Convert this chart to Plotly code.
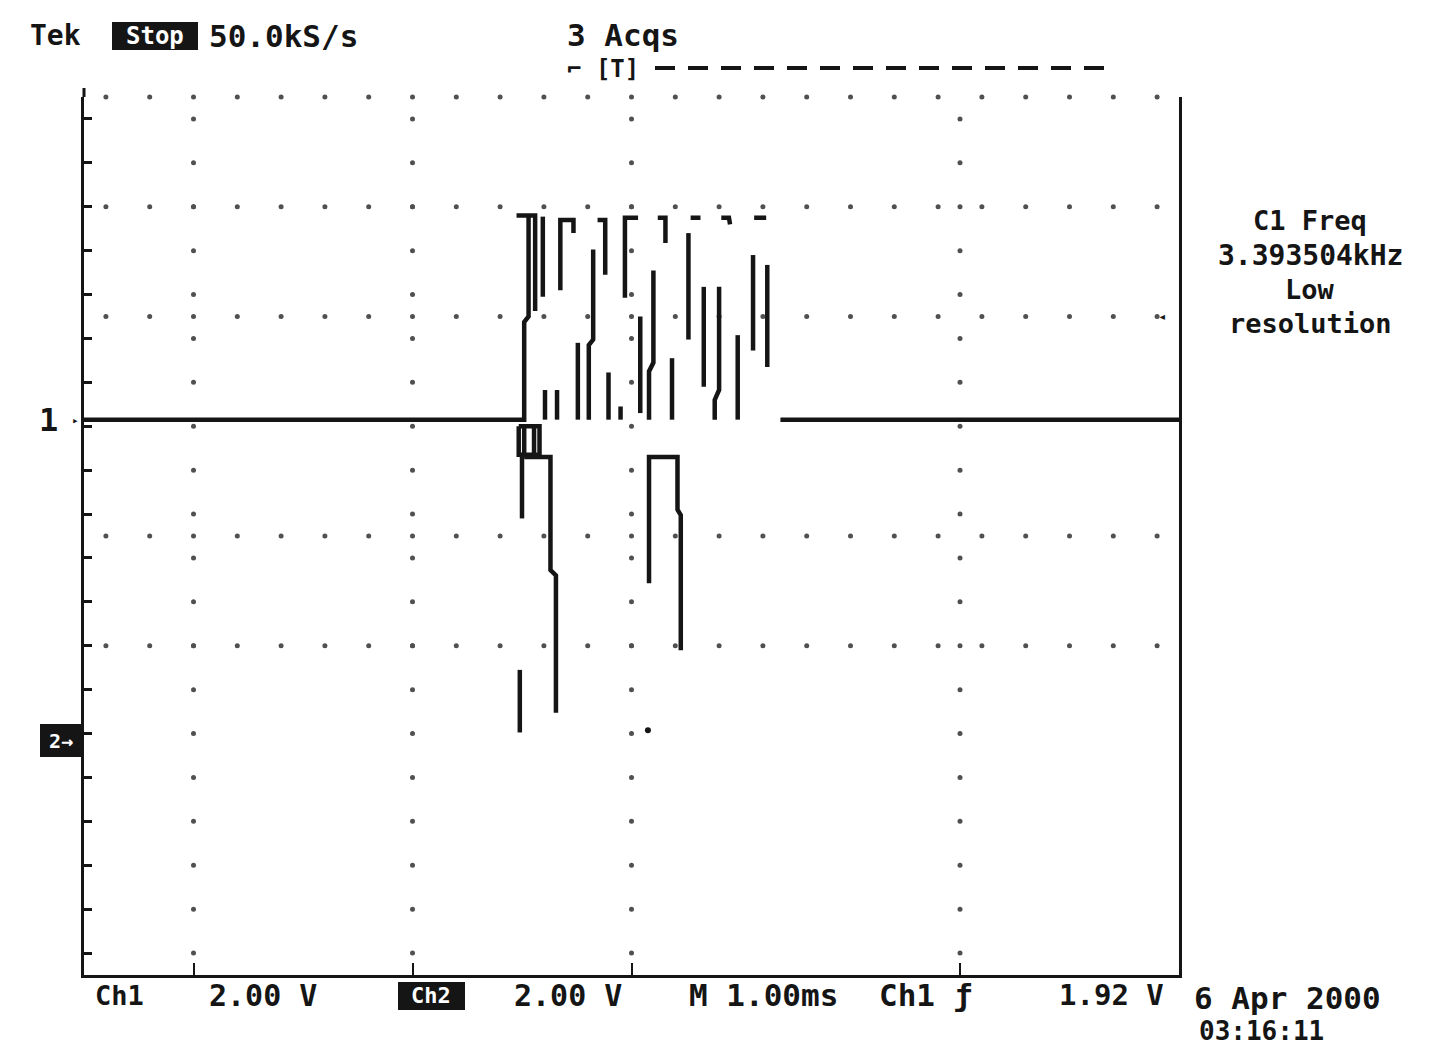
import numpy as np
import plotly.graph_objects as go

# ---------------- data (x: time, 1 ms/div, 0..10 ; y: screen divisions, -4..4) ----------------
# Ch1 acquisitions above ground level (None separates strokes)
upper_t = [0.00, 4.02, 4.02, 4.06, 4.06, None,
           3.95, 4.12, 4.12, None,
           4.19, 4.19, None,
           4.35, 4.35, 4.47, 4.47, None,
           4.65, 4.65, 4.61, 4.61, None,
           4.69, 4.76, 4.76, None,
           4.94, 4.94, 5.06, None,
           5.24, 5.31, 5.31, None,
           5.52, 5.52, None,
           5.54, 5.63, None,
           5.82, 5.89, 5.90, None,
           6.12, 6.23, None,
           5.20, 5.20, 5.16, 5.16, None,
           5.08, 5.08, None,
           5.66, 5.66, None,
           5.80, 5.80, 5.76, 5.76, None,
           5.97, 5.97, None,
           6.11, 6.11, None,
           6.24, 6.24, None,
           4.21, 4.21, None,
           4.32, 4.32, None,
           4.51, 4.51, None,
           4.79, 4.79, None,
           4.90, 4.90, None,
           5.37, 5.37, None,
           6.36, 10.00]
upper_v = [1.06, 1.06, 1.95, 2.00, 2.91, None,
           2.92, 2.92, 2.05, None,
           2.91, 2.18, None,
           2.24, 2.88, 2.88, 2.76, None,
           2.61, 1.79, 1.74, 1.06, None,
           2.88, 2.88, 2.38, None,
           2.17, 2.90, 2.90, None,
           2.90, 2.90, 2.67, None,
           2.76, 1.79, None,
           2.90, 2.90, None,
           2.90, 2.90, 2.84, None,
           2.90, 2.90, None,
           2.42, 1.58, 1.50, 1.06, None,
           2.00, 1.12, None,
           2.27, 1.36, None,
           2.27, 1.33, 1.24, 1.06, None,
           1.83, 1.06, None,
           2.56, 1.69, None,
           2.47, 1.54, None,
           1.33, 1.06, None,
           1.33, 1.06, None,
           1.76, 1.06, None,
           1.49, 1.06, None,
           1.18, 1.06, None,
           1.62, 1.06, None,
           1.06, 1.06]

# excursions below ground level
lower_t = [3.97, 4.16, 4.16, 3.97, 3.97, None,
           4.02, 4.02, None,
           4.11, 4.11, None,
           4.00, 4.00, None,
           4.02, 4.26, 4.26, 4.31, 4.31, None,
           3.98, 3.98, None,
           5.16, 5.16, 5.42, 5.42, 5.45, 5.45]
lower_v = [1.00, 1.00, 0.74, 0.74, 1.00, None,
           1.00, 0.74, None,
           1.00, 0.74, None,
           0.74, 0.16, None,
           0.72, 0.72, -0.31, -0.36, -1.61, None,
           -1.22, -1.79, None,
           -0.43, 0.72, 0.72, 0.24, 0.19, -1.04]

glitch_t = [5.15]
glitch_v = [-1.77]

# graticule rows / columns that are visible on the scan
grat_rows = [4, 3, 2, 0, -1]
grat_cols = [1, 3, 5, 8]

# ---------------- figure ----------------
# page coordinates of the graticule (the html body adds an 8 px offset)
OFF = 8
PW, PH = 1441, 1060
L, R, T, B = 84, 1179, 97, 975
W, H = PW - 2 * OFF, PH - 2 * OFF
INK = "#151515"
FONT = "DejaVu Sans Mono, Liberation Mono, monospace"

fig = go.Figure()

# graticule dots
row_x = np.arange(0.2, 10.0, 0.4)
gx, gy = [], []
for r in grat_rows:
    gx += list(row_x)
    gy += [r] * len(row_x)
col_y = np.arange(-3.8, 4.0, 0.4)
for c in grat_cols:
    gx += [c] * len(col_y)
    gy += list(col_y)
fig.add_trace(go.Scatter(x=gx, y=gy, mode="markers", cliponaxis=False,
                         marker=dict(size=5, color="#505050", line=dict(width=0)),
                         hoverinfo="skip", showlegend=False))

fig.add_trace(go.Scatter(x=upper_t, y=upper_v, mode="lines", connectgaps=False,
                         line=dict(color=INK, width=4.5), showlegend=False))
fig.add_trace(go.Scatter(x=lower_t, y=lower_v, mode="lines", connectgaps=False,
                         line=dict(color=INK, width=4.5), showlegend=False))
fig.add_trace(go.Scatter(x=glitch_t, y=glitch_v, mode="markers",
                         marker=dict(size=6, color=INK), showlegend=False))

fig.update_xaxes(range=[0, 10], showgrid=False, zeroline=False, showline=True,
                 linewidth=3, linecolor=INK, ticks="inside", tickvals=grat_cols,
                 ticklen=12, tickwidth=2, tickcolor=INK, showticklabels=False,
                 fixedrange=True)
fig.update_yaxes(range=[-4, 4], showgrid=False, zeroline=False, showline=True,
                 mirror=True, linewidth=3, linecolor=INK, ticks="inside",
                 tick0=0.2, dtick=0.4, ticklen=8, tickwidth=3, tickcolor=INK,
                 showticklabels=False, fixedrange=True)


def px(x):
    return (x - L) / (R - L)


def py(y):
    return (B - y) / (B - T)


def ann(text, x, y, size=30, anchor="left", color=INK):
    fig.add_annotation(x=px(x), y=py(y), xref="paper", yref="paper", text=text,
                       showarrow=False, xanchor=anchor, yanchor="middle",
                       font=dict(family=FONT, size=size, color=color, weight="bold"),
                       borderpad=0)


def box(x0, x1, y0, y1):
    fig.add_shape(type="rect", xref="paper", yref="paper", x0=px(x0), x1=px(x1),
                  y0=py(y1), y1=py(y0), fillcolor=INK, line=dict(width=0), layer="above")


# top readouts
ann("Tek", 29, 36, size=28)
box(112, 198, 22, 50)
ann("Stop", 155, 36, size=24, anchor="center", color="white")
ann("50.0kS/s", 208, 36, size=31)
ann("3 Acqs", 566, 35, size=31)
ann("⌐ [T]", 566, 69, size=24)
fig.add_shape(type="line", xref="paper", yref="paper", x0=px(655), x1=px(1105),
              y0=py(68), y1=py(68), line=dict(color=INK, width=4, dash="20px,13px"))
fig.add_shape(type="line", xref="paper", yref="paper", x0=px(L), x1=px(L),
              y0=py(88), y1=py(T), line=dict(color=INK, width=3))

# right measurement block
ann("C1 Freq", 1310, 221, size=27, anchor="center")
ann("3.393504kHz", 1310, 255, size=28, anchor="center")
ann("Low", 1310, 289, size=27, anchor="center")
ann("resolution", 1310, 323, size=27, anchor="center")
ann("◂", 1162, 316, size=14, anchor="center")

# left markers
ann("1", 48, 420, size=32, anchor="center")
ann("▸", 75, 421, size=11, anchor="center")
box(40, 82, 724, 757)
ann("2→", 61, 741, size=20, anchor="center", color="white")

# bottom readouts
ann("Ch1", 94, 995, size=27)
ann("2.00 V", 208, 995, size=30)
box(398, 465, 982, 1010)
ann("Ch2", 431, 996, size=22, anchor="center", color="white")
ann("2.00 V", 513, 995, size=30)
ann("M 1.00ms", 688, 995, size=31)
ann("Ch1 ƒ", 878, 995, size=31)
ann("1.92 V", 1058, 995, size=29)
ann("6 Apr 2000", 1193, 998, size=31)
ann("03:16:11", 1198, 1031, size=26)

fig.update_layout(width=W, height=H,
                  margin=dict(l=L - OFF, r=W - (R - OFF), t=T - OFF, b=H - (B - OFF)),
                  paper_bgcolor="white", plot_bgcolor="white", showlegend=False)

fig.write_html("out.html")
